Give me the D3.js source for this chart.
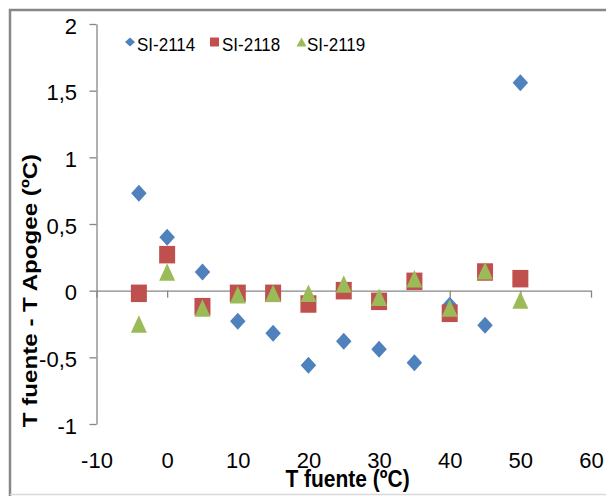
<!DOCTYPE html>
<html><head><meta charset="utf-8">
<script src="https://cdn.jsdelivr.net/npm/d3@7"></script>
<style>body{margin:0;background:#fff} svg{display:block} text{font-family:"Liberation Sans",Arial,sans-serif}</style>
</head><body><svg id="c" width="606" height="496"></svg>
<script>
const xValues = [-4, 0, 5, 10, 15, 20, 25, 30, 35, 40, 45, 50];
const seriesNames = ["SI-2114", "SI-2118", "SI-2119"];
const si2114 = [0.73, 0.40, 0.14, -0.23, -0.32, -0.56, -0.38, -0.44, -0.54, -0.11, -0.26, 1.56];
const si2118 = [-0.02, 0.27, -0.12, -0.02, -0.02, -0.10, 0.00, -0.08, 0.07, -0.17, 0.14, 0.09];
const si2119 = [-0.25, 0.14, -0.13, -0.03, -0.02, -0.02, 0.05, -0.05, 0.09, -0.13, 0.15, -0.07];
const xTicks = [-10, 0, 10, 20, 30, 40, 50, 60];
const yTicks = [-1, -0.5, 0, 0.5, 1, 1.5, 2];
const xTitle = "T fuente (ºC)";
const yTitle = "T fuente - T Apogee (ºC)";

const colors = ["#4F81BD", "#C0504D", "#9BBB59"];
const shapes = ["diamond", "square", "triangle"];
const seriesValues = [si2114, si2118, si2119];

const svg = d3.select("#c");
const x = d3.scaleLinear().domain([-10, 60]).range([96.5, 591]);
const y = d3.scaleLinear().domain([-1, 2]).range([424, 24]);

function shapePath(s, w, h) {
  if (s === "diamond") return `M0,${-h/2}L${w/2},0L0,${h/2}L${-w/2},0Z`;
  if (s === "square") return `M${-w/2},${-h/2}H${w/2}V${h/2}H${-w/2}Z`;
  return `M0,${-h/2}L${w/2},${h/2}L${-w/2},${h/2}Z`;
}

// frame
svg.append("path").attr("d", "M10,496V10H606").attr("fill", "none")
  .attr("stroke", "#878787").attr("stroke-width", 2.5);
svg.append("line").attr("x1", 10).attr("x2", 606).attr("y1", 494.5).attr("y2", 494.5)
  .attr("stroke", "#d9d9d9").attr("stroke-width", 1.5);

const axisColor = "#868686";

// y axis
const yAxis = svg.append("g").attr("transform", `translate(${x(-10)},0)`)
  .call(d3.axisLeft(y).tickValues(yTicks).tickSize(7).tickSizeOuter(0).tickPadding(12.5)
    .tickFormat(d => String(d).replace(".", ",")));
yAxis.select(".domain").attr("stroke", axisColor).attr("stroke-width", 1.3);
yAxis.selectAll(".tick line").attr("stroke", axisColor).attr("stroke-width", 1.3);
yAxis.selectAll(".tick text").attr("font-size", 22).attr("fill", "#000").attr("dy", 9)
  .attr("font-family", '"Liberation Sans",Arial,sans-serif');

// x axis line at y=0
const xAxis = svg.append("g").attr("transform", `translate(0,${y(0)})`)
  .call(d3.axisBottom(x).tickValues(xTicks).tickSize(7).tickSizeOuter(0).tickFormat(""));
xAxis.select(".domain").attr("stroke", axisColor).attr("stroke-width", 1.3);
xAxis.selectAll(".tick line").attr("stroke", axisColor).attr("stroke-width", 1.3);

// x tick labels (low position)
const xLab = svg.append("g").attr("transform", `translate(0,468)`)
  .call(d3.axisBottom(x).tickValues(xTicks).tickSize(0).tickPadding(0).tickFormat(d => String(d)));
xLab.select(".domain").remove();
xLab.selectAll(".tick text").attr("font-size", 22).attr("fill", "#000").attr("dy", 0).attr("y", 0)
  .attr("font-family", '"Liberation Sans",Arial,sans-serif');

// titles
svg.append("g").attr("transform", "translate(347.5,486.5) scale(1,1.12)")
  .append("text").attr("text-anchor", "middle").attr("font-size", 21).attr("font-weight", "bold")
  .text(xTitle);
svg.append("g").attr("transform", "translate(36.5,290.5) scale(1,1.15) rotate(-90)")
  .append("text").attr("text-anchor", "middle").attr("font-size", 21).attr("font-weight", "bold")
  .text(yTitle);

// points
seriesValues.forEach((vals, i) => {
  svg.append("g").selectAll("path").data(vals).join("path")
    .attr("d", shapePath(shapes[i], i === 0 ? 15.5 : 16, i === 0 ? 17 : 17.5))
    .attr("transform", (d, j) => `translate(${x(xValues[j])},${y(d)})`)
    .attr("fill", colors[i]);
});

// legend
const legendX = [130, 214.5, 301.5];
const legendTextX = [137, 222, 307];
seriesNames.forEach((name, i) => {
  svg.append("path").attr("d", shapePath(shapes[i], i === 1 ? 9 : 10, 9))
    .attr("transform", `translate(${legendX[i]},42)`).attr("fill", colors[i]);
  svg.append("g").attr("transform", `translate(${legendTextX[i]},50.5) scale(1,1.09)`)
    .append("text").attr("font-size", 17).attr("fill", "#000").text(name);
});
</script></body></html>
